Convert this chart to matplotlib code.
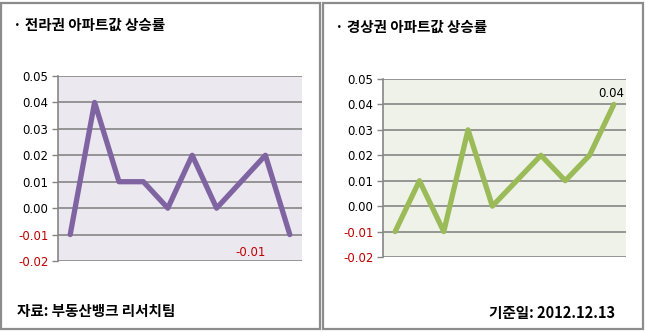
import matplotlib.pyplot as plt
from matplotlib.patches import Rectangle

plt.rcParams['font.family'] = ['Noto Sans CJK KR', 'DejaVu Sans']

# 아파트값 상승률 (10 periods)
jeolla_rates = [-0.01, 0.04, 0.01, 0.01, 0.00, 0.02, 0.00, 0.01, 0.02, -0.01]
gyeongsang_rates = [-0.01, 0.01, -0.01, 0.03, 0.00, 0.01, 0.02, 0.01, 0.02, 0.04]
y_ticks = [0.05, 0.04, 0.03, 0.02, 0.01, 0.00, -0.01, -0.02]

titles = ['· 전라권 아파트값 상승률', '· 경상권 아파트값 상승률']
source_text = '자료: 부동산뱅크 리서치팀'
date_text = '기준일: 2012.12.13'

W, H = 645, 333
fig = plt.figure(figsize=(W / 100, H / 100), dpi=100)
fig.patch.set_facecolor('white')


def fx(px):
    return px / W


def fy(py):
    return 1 - py / H


# panel frames
for x0, x1 in [(1, 320), (323, 643)]:
    fig.patches.append(Rectangle((fx(x0), fy(329)), fx(x1 - x0), (329 - 3) / H,
                                 transform=fig.transFigure, fill=False,
                                 edgecolor='#8c8c8c', linewidth=1.6))


def draw_panel(rect, values, line_color, face_color):
    ax = fig.add_axes(rect)
    xs = list(range(len(values)))
    ax.plot(xs, values, color=line_color, linewidth=3.8, solid_joinstyle='round',
            solid_capstyle='round', zorder=3)
    ax.set_facecolor(face_color)
    ax.set_xlim(-0.5, len(values) - 0.5)
    ax.set_ylim(-0.02, 0.05)
    ax.set_yticks(y_ticks)
    ax.set_yticklabels([f'{v:.2f}' for v in y_ticks], fontsize=8.5,
                       family='DejaVu Sans')
    for lbl, v in zip(ax.get_yticklabels(), y_ticks):
        lbl.set_color('#c00000' if v < 0 else 'black')
    ax.set_xticks([])
    ax.tick_params(axis='y', length=4, width=1, color='#868686', pad=3)
    for t in y_ticks:
        ax.axhline(t, color='#868686', linewidth=1.2, zorder=1)
    for s in ['top', 'right', 'bottom']:
        ax.spines[s].set_visible(False)
    ax.spines['left'].set_color('#868686')
    ax.spines['left'].set_linewidth(1.2)
    return ax


ax1 = draw_panel([fx(58), fy(261), fx(302 - 58), (261 - 76) / H],
                 jeolla_rates, '#8064a2', '#ebe8f0')
ax2 = draw_panel([fx(383), fy(257), fx(626 - 383), (257 - 79) / H],
                 gyeongsang_rates, '#9bbb59', '#eff2e8')

# data labels
last = len(jeolla_rates) - 1
ax1.annotate(f'{jeolla_rates[last]:.2f}', xy=(last, jeolla_rates[last]),
             xytext=(-28, -13), textcoords='offset points', ha='center',
             va='center', fontsize=8.5, color='#c00000', family='DejaVu Sans')
last = len(gyeongsang_rates) - 1
ax2.annotate(f'{gyeongsang_rates[last]:.2f}', xy=(last, gyeongsang_rates[last]),
             xytext=(-2, 8), textcoords='offset points', ha='center',
             va='center', fontsize=8.5, color='black', family='DejaVu Sans')

# titles and notes
fig.text(fx(13), fy(25), titles[0], fontsize=10.5, fontweight='bold',
         ha='left', va='center')
fig.text(fx(335), fy(27), titles[1], fontsize=10.5, fontweight='bold',
         ha='left', va='center')
fig.text(fx(17), fy(311), source_text, fontsize=10.5, fontweight='bold',
         ha='left', va='center')
fig.text(fx(615), fy(313), date_text, fontsize=10.5, fontweight='bold',
         ha='right', va='center')

fig.savefig('out.png', dpi=100)
